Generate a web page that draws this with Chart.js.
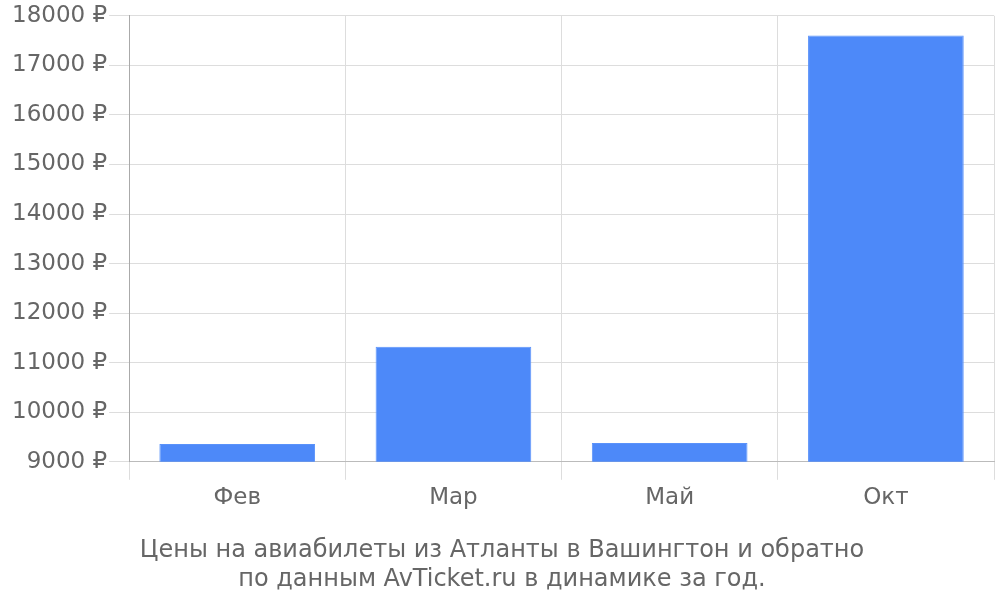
<!DOCTYPE html>
<html>
<head>
<meta charset="utf-8">
<script src="https://cdn.jsdelivr.net/npm/chart.js@4"></script>
<style>
  html, body { margin: 0; padding: 0; background: #fff; }
  #wrap { width: 1000px; height: 600px; }
</style>
</head>
<body>
<div id="wrap"><canvas id="priceChart"></canvas></div>
<script>
const months = ['Фев', 'Мар', 'Май', 'Окт'];
const prices = [9360, 11320, 9380, 17600];
const titleLines = [
    'Цены на авиабилеты из Атланты в Вашингтон и обратно',
    'по данным AvTicket.ru в динамике за год.'
];

Chart.defaults.font.family = '"DejaVu Sans", sans-serif';
Chart.defaults.font.size = 23;
Chart.defaults.color = '#666';

const ctx = document.getElementById('priceChart').getContext('2d');
new Chart(ctx, {
    type: 'bar',
    data: {
        labels: months,
        datasets: [{
            data: prices,
            backgroundColor: '#4d89f9',
            borderColor: '#5a92fa',
            borderWidth: 1
        }]
    },
    options: {
        responsive: true,
        maintainAspectRatio: false,
        animation: false,
        layout: { padding: { left: 10, right: 6, top: 0 } },
        plugins: {
            legend: { display: false },
            tooltip: { enabled: false },
            title: {
                display: true,
                position: 'bottom',
                text: titleLines,
                color: '#666',
                font: { size: 24, weight: 'normal', lineHeight: 1.2 },
                padding: { top: 21, bottom: 6 }
            }
        },
        scales: {
            x: {
                grid: { color: '#dddddd', tickLength: 18 },
                border: { color: '#bbbbbb' },
                ticks: { padding: 4 }
            },
            y: {
                min: 9000,
                max: 18000,
                grid: { color: '#dddddd', tickLength: 20 },
                border: { color: '#aaaaaa' },
                ticks: {
                    stepSize: 1000,
                    padding: 2,
                    callback: v => v + ' ₽'
                }
            }
        }
    }
});
</script>
</body>
</html>
